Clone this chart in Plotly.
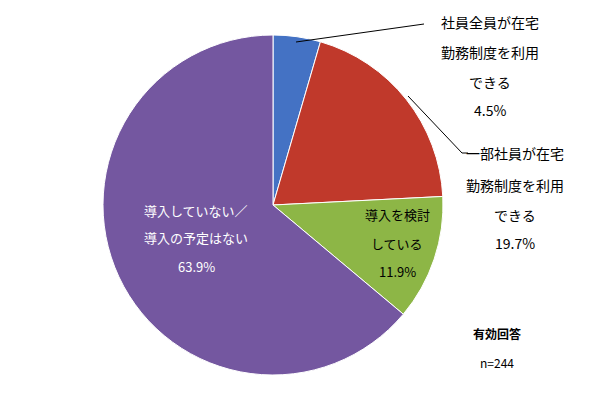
import plotly.graph_objects as go

labels = ["社員全員が在宅勤務制度を利用できる", "一部社員が在宅勤務制度を利用できる", "導入を検討している", "導入していない／導入の予定はない"]
values = [4.5, 19.7, 11.9, 63.9]
colors = ["#4472C4", "#C0392B", "#8DB646", "#7457A0"]

OFF = 8
W, H = 590 - OFF, 408 - OFF
def X(px): return (px - OFF) / W
def Y(py): return 1 - (py - OFF) / H

fig = go.Figure(go.Pie(
    labels=labels, values=values, sort=False, direction="clockwise", rotation=0,
    marker=dict(colors=colors, line=dict(color="white", width=1)),
    textinfo="none", hoverinfo="label+percent", showlegend=False,
    domain=dict(x=[X(103), X(443)], y=[Y(375), Y(35)]),
))

def ann(text, px, py, color="#000", size=14, bold=False):
    if bold:
        text = "<b>" + text + "</b>"
    fig.add_annotation(text=text, x=X(px), y=Y(py), xref="paper", yref="paper",
                       showarrow=False, font=dict(size=size, color=color), xanchor="center", yanchor="middle")

for t, y in zip(["社員全員が在宅", "勤務制度を利用", "できる", f"{values[0]}%"], [22, 52, 82, 110]):
    ann(t, 490, y)
for t, y in zip(["一部社員が在宅", "勤務制度を利用", "できる", f"{values[1]}%"], [153, 185, 215, 243]):
    ann(t, 515, y)
for t, y in zip(["導入を検討", "している", f"{values[2]}%"], [215, 243, 271]):
    ann(t, 397, y, size=13)
for t, y in zip(["導入していない／", "導入の予定はない", f"{values[3]}%"], [210, 238, 266]):
    ann(t, 196, y, color="white", size=13)
ann("有効回答", 497, 333, size=12, bold=True)
ann("n=244", 497, 362, size=12)

line = dict(color="black", width=1)
shapes = [
    dict(type="line", x0=X(296), y0=Y(42), x1=X(424), y1=Y(24), line=line),
    dict(type="line", x0=X(408), y0=Y(96), x1=X(462), y1=Y(153), line=line),
    dict(type="line", x0=X(462), y0=Y(153), x1=X(468), y1=Y(153), line=line),
]
fig.update_layout(width=W, height=H, margin=dict(l=0, r=0, t=0, b=0), paper_bgcolor="white",
                  shapes=shapes, font=dict(family="Noto Sans CJK JP"))
fig.write_html("out.html")
